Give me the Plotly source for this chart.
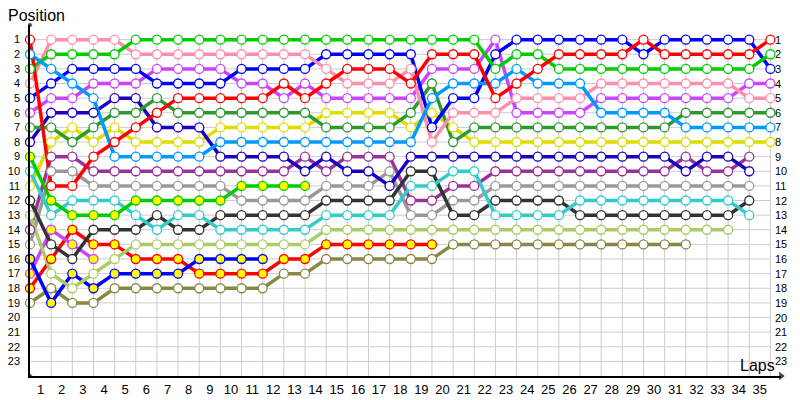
import plotly.graph_objects as go

# positions per lap (lap 0 = grid), one list per car
red = [1, 11, 11, 9, 8, 7, 6, 5, 5, 5, 5, 5, 4, 5, 4, 3, 3, 3, 4, 2, 2, 2, 5, 4, 3, 2, 2, 2, 2, 1, 2, 2, 2, 2, 2, 1]
light_blue = [2, 3, 4, 5, 9, 9, 9, 9, 9, 8, 8, 8, 8, 8, 8, 8, 8, 8, 8, 5, 4, 4, 4, 3, 4, 4, 4, 6, 6, 6, 6, 7, 7, 7, 7, 7]
green = [3, 2, 2, 2, 2, 1, 1, 1, 1, 1, 1, 1, 1, 1, 1, 1, 1, 1, 1, 1, 1, 1, 3, 2, 2, 3, 3, 3, 3, 3, 3, 3, 3, 3, 3, 2]
pink = [4, 1, 1, 1, 1, 2, 2, 2, 2, 2, 2, 2, 2, 2, 3, 4, 4, 4, 3, 8, 6, 6, 6, 5, 5, 5, 5, 4, 4, 4, 4, 4, 4, 4, 5, 5]
blue = [5, 4, 3, 3, 3, 3, 4, 4, 4, 4, 3, 3, 3, 3, 2, 2, 2, 2, 2, 7, 5, 5, 2, 1, 1, 1, 1, 1, 1, 2, 1, 1, 1, 1, 1, 3]
violet = [6, 5, 5, 4, 4, 4, 3, 3, 3, 3, 4, 4, 5, 4, 5, 5, 5, 5, 5, 3, 3, 3, 1, 6, 6, 6, 6, 5, 5, 5, 5, 5, 5, 5, 4, 4]
dark_green = [7, 7, 8, 7, 6, 6, 5, 6, 6, 6, 6, 6, 6, 6, 7, 7, 7, 7, 6, 4, 8, 7, 7, 7, 7, 7, 7, 7, 7, 7, 7, 6, 6, 6, 6, 6]
dark_blue = [8, 6, 6, 6, 5, 5, 7, 7, 7, 9, 9, 9, 9, 10, 9, 10, 10, 11, 9, 9, 9, 9, 9, 9, 9, 9, 9, 9, 9, 9, 9, 10, 9, 9, 10]
green_b = [9, 12, 13, 13, 13, 12, 12, 12, 12, 12, 11, 11, 11, 11]
cyan = [10, 13, 12, 12, 12, 13, 14, 13, 13, 14, 14, 14, 14, 14, 13, 13, 13, 13, 11, 11, 10, 10, 13, 13, 13, 13, 12, 12, 12, 12, 12, 12, 12, 12, 13]
yellow = [11, 8, 7, 8, 7, 8, 8, 8, 8, 7, 7, 7, 7, 7, 6, 6, 6, 6, 7, 6, 7, 8, 8, 8, 8, 8, 8, 8, 8, 8, 8, 8, 8, 8, 8, 8]
black = [12, 15, 16, 14, 14, 14, 13, 14, 14, 13, 13, 13, 13, 13, 12, 12, 12, 12, 10, 10, 13, 13, 12, 12, 12, 12, 13, 13, 13, 13, 13, 13, 13, 13, 12]
light_olive = [13, 17, 18, 17, 16, 15, 15, 15, 15, 15, 15, 15, 15, 15, 14, 14, 14, 14, 14, 14, 14, 14, 14, 14, 14, 14, 14, 14, 14, 14, 14, 14, 14, 14]
purple = [14, 9, 9, 10, 10, 10, 10, 10, 10, 10, 10, 10, 10, 9, 10, 9, 9, 9, 12, 12, 11, 11, 10, 10, 10, 10, 10, 10, 10, 10, 10, 9, 10, 10, 9]
gray = [15, 10, 10, 11, 11, 11, 11, 11, 11, 11, 12, 12, 12, 12, 11, 11, 11, 10, 13, 13, 12, 12, 11, 11, 11, 11, 11, 11, 11, 11, 11, 11, 11, 11, 11]
blue_b = [16, 19, 17, 18, 17, 17, 17, 17, 16, 16, 16, 16]
violet_b = [17, 14, 15, 16]
red_b = [18, 16, 14, 15, 15, 16, 16, 16, 17, 17, 17, 17, 16, 16, 15, 15, 15, 15, 15, 15]
olive = [19, 18, 19, 19, 18, 18, 18, 18, 18, 18, 18, 18, 17, 17, 16, 16, 16, 16, 16, 16, 15, 15, 15, 15, 15, 15, 15, 15, 15, 15, 15, 15]

n_laps = 35
n_pos = 23

# (positions, line colour, marker fill)
cars = [
    (red, "#ff0000", "white"),
    (light_blue, "#0099ff", "white"),
    (green, "#00cc00", "white"),
    (pink, "#ff8fab", "white"),
    (blue, "#0000ff", "white"),
    (violet, "#cc44ff", "white"),
    (dark_green, "#2e9a2e", "white"),
    (dark_blue, "#1a00c0", "white"),
    (green_b, "#00cc00", "#ffff00"),
    (cyan, "#33cccc", "white"),
    (yellow, "#dddd00", "white"),
    (black, "#333333", "white"),
    (light_olive, "#aacc66", "white"),
    (purple, "#993399", "white"),
    (gray, "#999999", "white"),
    (blue_b, "#0000ff", "#ffff00"),
    (violet_b, "#cc44ff", "#ffff00"),
    (red_b, "#ff0000", "#ffff00"),
    (olive, "#888844", "white"),
]

fig = go.Figure()

# lines first, then all markers on top
for pos, col, fill in reversed(cars):
    fig.add_trace(go.Scatter(
        x=list(range(len(pos))), y=pos, mode="lines",
        line=dict(color=col, width=3.5), hoverinfo="skip", cliponaxis=False
    ))
for pos, col, fill in reversed(cars):
    fig.add_trace(go.Scatter(
        x=list(range(len(pos))), y=pos, mode="markers",
        marker=dict(size=9, color=fill, line=dict(color=col, width=1.3)),
        cliponaxis=False
    ))

# axis end marks
fig.add_trace(go.Scatter(
    x=[0, 0, n_laps + 0.5], y=[0, n_pos + 1, n_pos + 1], mode="markers",
    marker=dict(size=[5, 5, 9], color="black", symbol=["circle", "circle", "triangle-right"]),
    cliponaxis=False, hoverinfo="skip"
))

grid = []
for lap in range(1, n_laps + 1):
    grid.append(dict(type="line", x0=lap, x1=lap, y0=1, y1=n_pos + 1, layer="below",
                     line=dict(color="#cccccc", width=1)))
for p in range(1, n_pos + 1):
    grid.append(dict(type="line", x0=0, x1=n_laps, y0=p, y1=p, layer="below",
                     line=dict(color="#cccccc", width=1)))

notes = [dict(x=n_laps, y=p, text=str(p), xanchor="left", xshift=3, showarrow=False,
              font=dict(size=11, color="black")) for p in range(1, n_pos + 1)]
notes.append(dict(xref="paper", yref="paper", x=0, y=1, text="Position", xanchor="left",
                  yanchor="bottom", xshift=-24, yshift=-1, showarrow=False,
                  font=dict(size=16, color="black")))
notes.append(dict(x=n_laps + 0.5, y=n_pos + 1, text="Laps", xanchor="right", yanchor="bottom",
                  xshift=-4, yshift=0, showarrow=False, font=dict(size=16, color="black")))

# the page sits 8px in from the window corner, so the figure is 8px smaller
fig.update_layout(
    width=792, height=392,
    margin=dict(l=22, r=19, t=17, b=24, autoexpand=False),
    plot_bgcolor="white", paper_bgcolor="white",
    showlegend=False,
    font=dict(family="Liberation Sans, Arial, sans-serif", color="black"),
    shapes=grid,
    annotations=notes,
    xaxis=dict(
        range=[0, n_laps + 0.5], showgrid=False, zeroline=False, automargin=False,
        showline=True, linecolor="black", linewidth=1.5,
        tickvals=[k - 0.5 for k in range(1, n_laps + 1)],
        ticktext=[str(k) for k in range(1, n_laps + 1)],
        ticks="outside", ticklen=1, tickcolor="rgba(0,0,0,0)",
        tickfont=dict(size=13),
    ),
    yaxis=dict(
        range=[n_pos + 1, 0], showgrid=False, zeroline=False, automargin=False,
        showline=True, linecolor="black", linewidth=1.5,
        tickvals=list(range(1, n_pos + 1)),
        ticks="outside", ticklen=6, tickcolor="rgba(0,0,0,0)",
        tickfont=dict(size=11),
    ),
)

fig.write_html("out.html")
